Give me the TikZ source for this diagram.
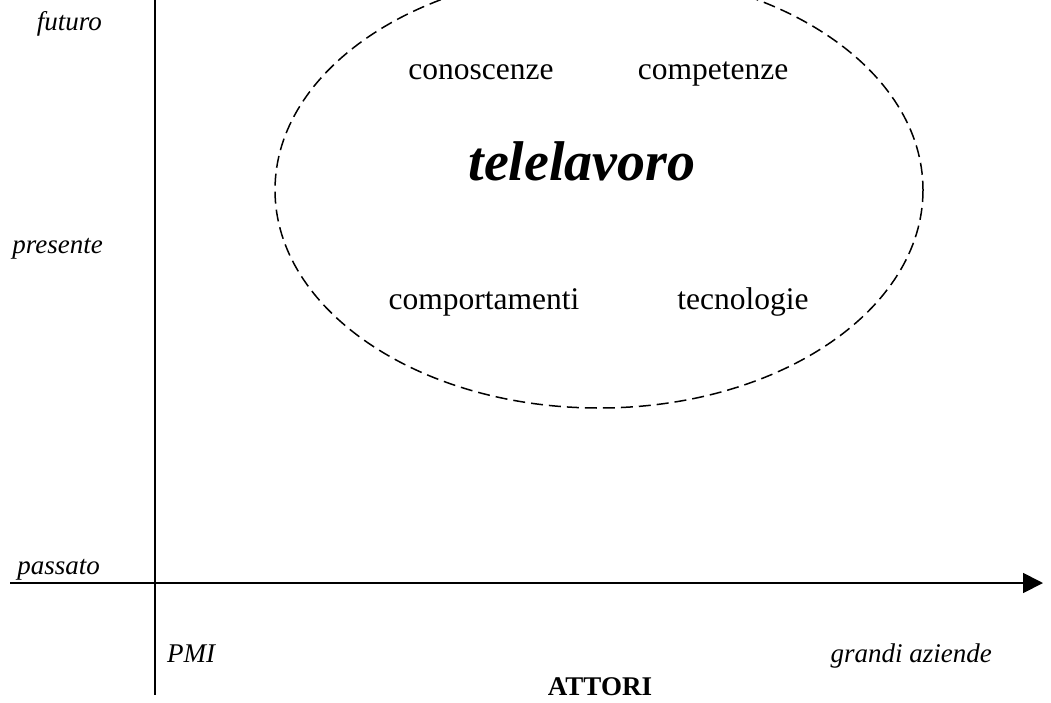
\documentclass[tikz,border=0pt]{standalone}
\usepackage{fontspec}
\setmainfont{Liberation Serif}
\usetikzlibrary{arrows.meta}
\tikzset{
  axislabel/.style={font=\fontsize{27}{30}\selectfont\itshape, inner sep=0pt, anchor=base},
  word/.style={font=\fontsize{31.5}{34}\selectfont, inner sep=0pt, anchor=base},
  axisline/.style={line width=1.8pt},
  field/.style={draw, dashed, line width=1.5pt, dash pattern=on 12pt off 6pt}
}
\begin{document}
\begin{tikzpicture}[x=1pt,y=-1pt]
\useasboundingbox (0,0) rectangle (1051,702);
\begin{scope}
\clip (0,0) rectangle (1051,702);
\draw[field] (599,190) ellipse [x radius=324, y radius=218];
\end{scope}
% axes
\coordinate (vtop) at (155,0);
\coordinate (vbot) at (155,695);
\coordinate (hleft) at (10,583);
\coordinate (hright) at (1043,583);
\draw[axisline] (vtop) -- (vbot);
\draw[axisline, -{Triangle[length=20pt, width=20pt]}] (hleft) -- (hright);
% time labels
\node[axislabel, anchor=base east] (futuro) at (102,30) {futuro};
\node[axislabel, anchor=base east] (presente) at (103,253) {presente};
\node[axislabel, anchor=base east] (passato) at (100,574) {passato};
% actor labels
\node[axislabel, anchor=base west] (pmi) at (167,662) {PMI};
\node[axislabel, anchor=base east] (grandi) at (992,662) {grandi aziende};
\node[font=\fontsize{27}{30}\selectfont\bfseries, inner sep=0pt, anchor=base] (attori) at (600,695) {ATTORI};
% ellipse contents
\node[word] (conoscenze) at (481,79) {conoscenze};
\node[word] (competenze) at (713,79) {competenze};
\node[font=\fontsize{56}{60}\selectfont\bfseries\itshape, inner sep=0pt, anchor=base] (tele) at (582,180) {telelavoro};
\node[word] (comportamenti) at (484,309) {comportamenti};
\node[word] (tecnologie) at (743,309) {tecnologie};
\end{tikzpicture}
\end{document}
